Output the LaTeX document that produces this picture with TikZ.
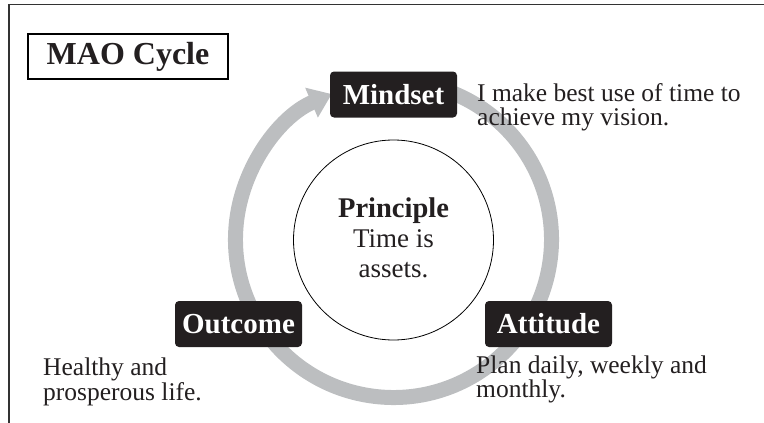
\documentclass[tikz,border=0pt]{standalone}
\usepackage{fontspec}
\setmainfont{Liberation Serif}
\usetikzlibrary{arrows.meta}
\definecolor{ringgray}{HTML}{BCBEC0}
\definecolor{boxblack}{HTML}{231F20}
\definecolor{txt}{HTML}{231F20}
\newcommand{\bodyfont}{\fontsize{25.5}{24}\selectfont}
\newcommand{\labfont}{\fontsize{29}{30}\selectfont\bfseries}
\newcommand{\leftlines}[1]{\begin{tabular}[t]{@{}l@{}}#1\end{tabular}}
\tikzset{
  labelbox/.style={fill=boxblack, rounded corners=4pt, text=white, font=\labfont,
    minimum width=127pt, minimum height=46pt, inner sep=0pt},
  bodytext/.style={anchor=base west, inner sep=0pt, text=txt, font=\bodyfont},
  ring/.style={draw=ringgray, line width=15pt, -{Triangle[width=31pt,length=22pt]}},
  frameline/.style={draw=black!80, line width=1.3pt},
}
\begin{document}
\begin{tikzpicture}[x=1pt,y=-1pt]
\useasboundingbox (0,0) rectangle (764,423);
% frame
\coordinate (ftop) at (9,4.5);
\coordinate (fright) at (764,4.5);
\coordinate (fbot) at (9,423);
\draw[frameline] (fright) -- (ftop) -- (fbot);
% title
\node[draw=black, line width=1.3pt, font=\fontsize{32}{34}\selectfont\bfseries, text=txt,
  minimum width=200pt, minimum height=45pt, inner sep=0pt] (title) at (128,56.5) {MAO Cycle};
% ring
\coordinate (c) at (393.5,239.5);
\draw[ring] ([shift={(-80:158)}]c) arc[start angle=-80, end angle=247, radius=158];
% inner circle
\node[draw=black, line width=0.8pt, circle, minimum size=200pt, inner sep=0pt] (principle) at (393.5,240) {};
\node[anchor=base, inner sep=0pt, text=txt, font=\fontsize{27}{30}\selectfont] (ptext) at (393.5,217)
  {\begin{tabular}[t]{@{}c@{}}{\fontsize{28.5}{30}\selectfont\bfseries Principle}\\
   Time is\\
   assets.\end{tabular}};
% label boxes
\node[labelbox] (mindset) at (393.5,94.5) {Mindset};
\node[labelbox] (outcome) at (238.5,324) {Outcome};
\node[labelbox] (attitude) at (548.5,324) {Attitude};
% descriptions
\node[bodytext] (mtext) at (477,101) {\leftlines{I make best use of time to\\achieve my vision.}};
\node[bodytext] (otext) at (43,375) {\leftlines{Healthy and\\prosperous life.}};
\node[bodytext] (atext) at (476,373) {\leftlines{Plan daily, weekly and\\monthly.}};
\end{tikzpicture}
\end{document}
